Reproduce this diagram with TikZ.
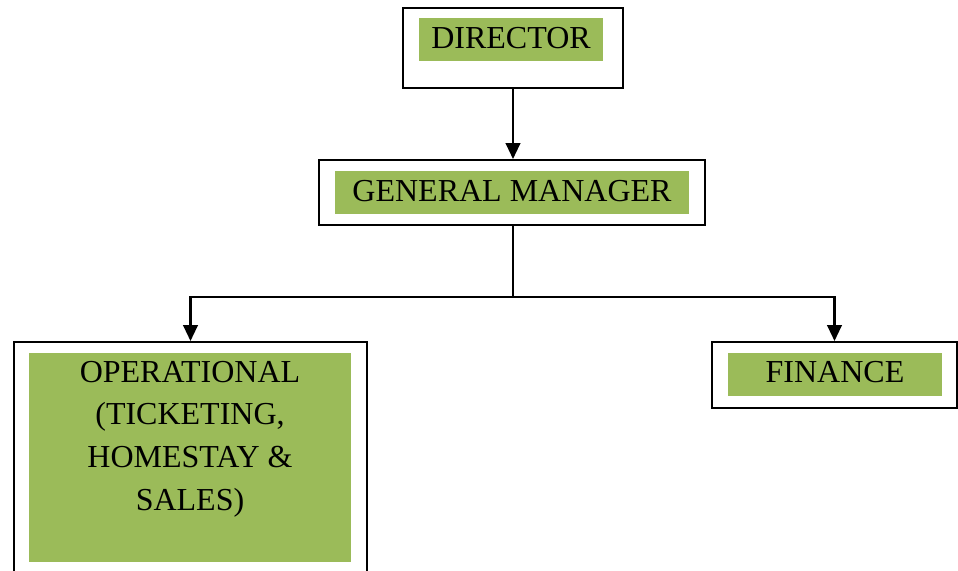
\documentclass[tikz,border=0pt]{standalone}
\usepackage{fontspec}
\setmainfont{Liberation Serif}
\usetikzlibrary{arrows.meta}
\definecolor{boxgreen}{HTML}{9BBB59}
\tikzset{
  outerbox/.style={draw=black, line width=1.5pt, fill=white, inner sep=0pt},
  greenbox/.style={fill=boxgreen, draw=none, inner sep=0pt},
  label/.style={font=\fontsize{24pt}{32pt}\selectfont, inner sep=0pt, align=center, anchor=base},
  conn/.style={line width=1.6pt},
  arr/.style={conn, -{Triangle[width=11pt,length=12pt]}}
}
\begin{document}
\begin{tikzpicture}[x=0.75pt,y=-0.75pt]
\useasboundingbox[clip] (0,0) rectangle (958,571);
% outer boxes
\node[outerbox, minimum width=165pt, minimum height=60pt] (dir) at (513,48) {};
\node[outerbox, minimum width=289.5pt, minimum height=48.75pt] (gm) at (512,192.5) {};
\node[outerbox, minimum width=264.75pt, minimum height=193.5pt] (op) at (190.5,471) {};
\node[outerbox, minimum width=183.75pt, minimum height=49.5pt] (fin) at (834.5,375) {};
% green fills
\node[greenbox, minimum width=138pt, minimum height=32.25pt] (dirg) at (511,39.5) {};
\node[greenbox, minimum width=265.5pt, minimum height=32.25pt] (gmg) at (512,192.5) {};
\node[greenbox, minimum width=241.5pt, minimum height=156.75pt] (opg) at (190,457.5) {};
\node[greenbox, minimum width=160.5pt, minimum height=32.25pt] (fing) at (835,374.5) {};
% texts
\node[label] (dirt) at (511,48) {DIRECTOR};
\node[label] (gmt) at (512,201) {GENERAL MANAGER};
\node[label] (opt) at (190,510) {OPERATIONAL\\(TICKETING,\\HOMESTAY \&\\SALES)};
\node[label] (fint) at (835,382) {FINANCE};
% connectors
\coordinate (j) at (513,297);
\draw[arr] (dir.south) -- (dir.south |- gm.north);
\draw[conn] (gm.south -| j) -- (j);
\draw[arr] (j) -| (op.north);
\draw[arr] (j) -| (fin.north);
\end{tikzpicture}
\end{document}
